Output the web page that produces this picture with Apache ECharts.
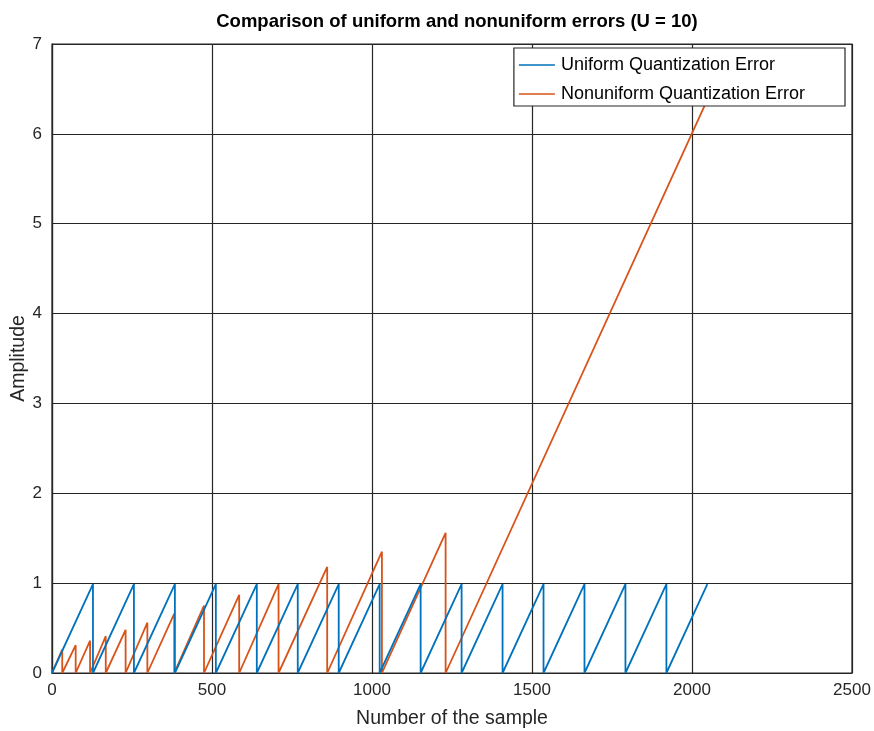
<!DOCTYPE html>
<html>
<head>
<meta charset="utf-8">
<script src="https://cdn.jsdelivr.net/npm/echarts@6/dist/echarts.min.js"></script>
<style>html,body{margin:0;padding:0;background:#fff}#c{width:874px;height:731px}</style>
</head>
<body>
<div id="c"></div>
<script>
// Uniform error: tooth boundaries (sample numbers) and peak amplitudes
var uniformBreaks = [0,128,256,384,512,640,768,896,1024,1152,1280,1408,1536,1664,1792,1920,2048];
var uniformPeaks  = [0.99,0.99,0.99,0.99,0.99,0.99,0.99,0.99,0.99,0.99,0.99,0.99,0.99,0.99,0.99,0.99];
// Nonuniform error: tooth boundaries and peak amplitudes
var nonuniformBreaks = [0,32,74,119,168,230,298,382,475,585,708,860,1031,1230,2048];
var nonuniformPeaks  = [0.26,0.31,0.36,0.41,0.48,0.56,0.66,0.75,0.87,0.99,1.18,1.35,1.56,6.38];
var xTicks = [0,500,1000,1500,2000,2500];
var yTicks = [0,1,2,3,4,5,6,7];

function saw(breaks, peaks) {
  var pts = [[breaks[0], 0]];
  for (var i = 0; i < peaks.length; i++) {
    pts.push([breaks[i + 1], peaks[i]]);
    if (i < peaks.length - 1) pts.push([breaks[i + 1], 0]);
  }
  return pts;
}

var font = 'Liberation Sans, Helvetica, Arial, sans-serif';
var chart = echarts.init(document.getElementById('c'), null, {renderer: 'canvas'});
chart.setOption({
  animation: false,
  backgroundColor: '#fff',
  title: {
    text: 'Comparison of uniform and nonuniform errors (U = 10)',
    left: 452, top: 7, textAlign: 'center',
    textStyle: {fontFamily: font, fontSize: 18.5, fontWeight: 'bold', color: '#000'}
  },
  legend: {
    right: 29, top: 48, orient: 'vertical',
    itemWidth: 36, itemHeight: 10, itemGap: 11,
    backgroundColor: '#fff', borderColor: '#262626', borderWidth: 1.2,
    padding: [8, 40, 3, 5], borderRadius: 0,
    textStyle: {fontFamily: font, fontSize: 18, color: '#000', padding: [0, 0, 0, 1]},
    icon: 'path://M0,4.2 L36,4.2 L36,5.8 L0,5.8 Z',
    data: ['Uniform Quantization Error', 'Nonuniform Quantization Error']
  },
  grid: {left: 52, right: 22, top: 44, bottom: 58, show: true, borderColor: '#262626', borderWidth: 1.2, containLabel: false, outerBoundsMode: 'none'},
  xAxis: {
    type: 'value', min: xTicks[0], max: xTicks[xTicks.length - 1], interval: 500,
    name: 'Number of the sample', nameLocation: 'middle', nameGap: 36, nameMoveOverlap: false,
    nameTextStyle: {fontFamily: font, fontSize: 19.5, color: '#262626'},
    axisLine: {show: true, lineStyle: {color: '#262626', width: 1.2}},
    axisTick: {show: false},
    axisLabel: {fontFamily: font, fontSize: 17, color: '#262626', margin: 9, formatter: function (v) { return String(v); }},
    splitLine: {show: true, lineStyle: {color: '#262626', width: 1.2}}
  },
  yAxis: {
    type: 'value', min: yTicks[0], max: yTicks[yTicks.length - 1], interval: 1,
    name: 'Amplitude', nameLocation: 'middle', nameGap: 23, nameMoveOverlap: false,
    nameTextStyle: {fontFamily: font, fontSize: 19.5, color: '#262626'},
    axisLine: {show: true, lineStyle: {color: '#262626', width: 1.2}},
    axisTick: {show: false},
    axisLabel: {fontFamily: font, fontSize: 17, color: '#262626', margin: 10, formatter: function (v) { return String(v); }},
    splitLine: {show: true, lineStyle: {color: '#262626', width: 1.2}}
  },
  series: [
    {
      name: 'Uniform Quantization Error', type: 'line', showSymbol: false, symbol: 'none',
      data: saw(uniformBreaks, uniformPeaks),
      lineStyle: {color: '#0072BD', width: 1.8}, itemStyle: {color: '#0072BD'}, z: 3
    },
    {
      name: 'Nonuniform Quantization Error', type: 'line', showSymbol: false, symbol: 'none',
      data: saw(nonuniformBreaks, nonuniformPeaks),
      lineStyle: {color: '#D95319', width: 1.8}, itemStyle: {color: '#D95319'}, z: 2
    }
  ]
});
</script>
</body>
</html>
